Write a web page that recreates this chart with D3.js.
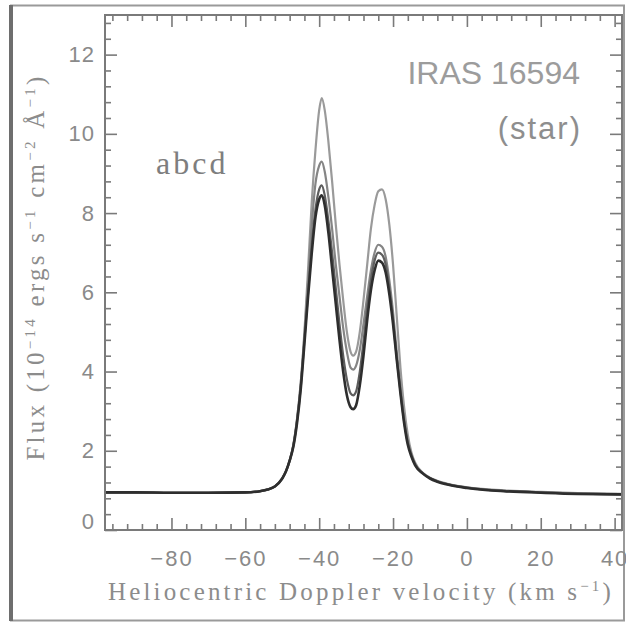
<!DOCTYPE html>
<html>
<head>
<meta charset="utf-8">
<script src="https://cdn.jsdelivr.net/npm/d3@7/dist/d3.min.js"></script>
<style>
  html, body { margin: 0; padding: 0; background: #fff; }
  svg { display: block; }
</style>
</head>
<body>
<svg id="chart" width="626" height="622"></svg>
<script>
// ---- data ----
const velocity = [-98,-90,-80,-70,-60,-56,-54,-52,-50,-49,-48,-47,-46,-45,-44,-43,-42,-41,-40,-39.3,-38.5,-37.5,-36.5,-35.5,-34.5,-33.5,-32.5,-31.5,-30.8,-30,-29,-28,-27,-26,-25,-24,-23,-22,-21,-20,-19,-18,-17,-16,-15,-14,-12,-10,-8,-5,0,5,10,20,30,42];
const fluxA = [0.95,0.95,0.94,0.94,0.95,0.98,1.02,1.1,1.3,1.48,1.75,2.15,2.8,3.7,5.0,6.6,8.3,9.6,10.6,10.9,10.6,9.8,8.8,7.7,6.7,5.8,5.0,4.5,4.4,4.5,5.0,5.8,6.7,7.6,8.2,8.55,8.6,8.35,7.7,6.7,5.4,4.1,3.1,2.4,1.95,1.7,1.45,1.32,1.24,1.16,1.08,1.03,1.0,0.96,0.93,0.91];
const fluxB = [0.95,0.95,0.94,0.94,0.95,0.98,1.02,1.1,1.3,1.48,1.75,2.15,2.8,3.7,4.9,6.3,7.7,8.75,9.2,9.3,9.05,8.4,7.6,6.7,5.9,5.1,4.5,4.1,4.05,4.15,4.55,5.2,5.9,6.55,7.0,7.2,7.15,6.9,6.3,5.5,4.5,3.6,2.8,2.25,1.9,1.66,1.44,1.31,1.23,1.15,1.07,1.02,0.99,0.95,0.92,0.9];
const fluxC = [0.95,0.95,0.94,0.94,0.95,0.98,1.02,1.1,1.3,1.48,1.75,2.12,2.75,3.6,4.8,6.0,7.2,8.1,8.6,8.7,8.45,7.8,7.0,6.1,5.2,4.4,3.8,3.45,3.4,3.5,4.0,4.75,5.6,6.3,6.8,7.0,6.95,6.7,6.1,5.3,4.35,3.5,2.75,2.2,1.88,1.65,1.44,1.31,1.23,1.15,1.07,1.02,0.99,0.95,0.92,0.9];
const fluxD = [0.95,0.95,0.94,0.94,0.95,0.98,1.02,1.1,1.3,1.48,1.75,2.1,2.7,3.55,4.7,5.9,7.0,7.9,8.35,8.45,8.2,7.5,6.6,5.7,4.8,4.0,3.4,3.1,3.05,3.15,3.65,4.4,5.3,6.05,6.55,6.8,6.75,6.5,5.95,5.2,4.3,3.45,2.7,2.15,1.85,1.63,1.43,1.3,1.22,1.14,1.06,1.01,0.98,0.94,0.91,0.9];
const seriesNames = ["a","b","c","d"];
const seriesColors = ["#9a9a9a","#858585","#5e5e5e","#2e2e2e"];
const xTickValues = [-80,-60,-40,-20,0,20,40];
const yTickValues = [0,2,4,6,8,10,12];
const titleLines = ["IRAS 16594","(star)"];
const legendText = "abcd";

// ---- layout ----
const svg = d3.select("#chart");
const L = 105, R = 622, T = 15, B = 530;
const x = d3.scaleLinear().domain([-98, 42]).range([L, R]);
const y = d3.scaleLinear().domain([0, 13]).range([B, T]);

// outer frame
svg.append("rect").attr("x", 11).attr("y", 5.5).attr("width", 613).attr("height", 615)
  .attr("fill", "none").attr("stroke", "#9a9a9a").attr("stroke-width", 2);
svg.append("line").attr("x1", 11).attr("x2", 11).attr("y1", 5).attr("y2", 621)
  .attr("stroke", "#6e6e6e").attr("stroke-width", 4);

// series
const series = [fluxA, fluxB, fluxC, fluxD];
const line = d3.line().x(d => x(d[0])).y(d => y(d[1])).curve(d3.curveMonotoneX);
series.forEach((vals, i) => {
  svg.append("path")
    .datum(velocity.map((v, j) => [v, vals[j]]))
    .attr("d", line)
    .attr("fill", "none")
    .attr("stroke", seriesColors[i])
    .attr("stroke-width", i === 3 ? 2.6 : 2.2)
    .attr("stroke-linejoin", "round");
});

// axes
const tickColor = "#7a7a7a";
const labelColor = "#8a8a8a";
const xMinor = d3.range(-96, 43, 4).filter(v => v % 20 !== 0);
const yMinor = d3.range(0, 33).map(i => +(i * 0.4).toFixed(1)).filter(v => Math.abs(v / 2 - Math.round(v / 2)) > 1e-6);

function styleAxis(g) {
  g.select(".domain").remove();
  g.selectAll("line").attr("stroke", tickColor).attr("stroke-width", 1.6);
}

const xAxis = svg.append("g").attr("transform", `translate(0,${B})`)
  .call(d3.axisBottom(x).tickValues(xTickValues).tickSize(-12).tickPadding(20));
styleAxis(xAxis);
xAxis.selectAll("text").attr("fill", labelColor).attr("font-family", "Liberation Sans, Arial, sans-serif")
  .attr("font-size", 22).attr("letter-spacing", 2);
svg.append("g").attr("transform", `translate(0,${B})`)
  .call(d3.axisBottom(x).tickValues(xMinor).tickSize(-6).tickFormat("")).call(styleAxis);

const xTop = svg.append("g").attr("transform", `translate(0,${T})`)
  .call(d3.axisTop(x).tickValues(xTickValues).tickSize(-12).tickFormat("")).call(styleAxis);
svg.append("g").attr("transform", `translate(0,${T})`)
  .call(d3.axisTop(x).tickValues(xMinor).tickSize(-6).tickFormat("")).call(styleAxis);

const yAxis = svg.append("g").attr("transform", `translate(${L},0)`)
  .call(d3.axisLeft(y).tickValues(yTickValues).tickSize(-12).tickPadding(10));
styleAxis(yAxis);
yAxis.selectAll("text").attr("fill", labelColor).attr("font-family", "Liberation Sans, Arial, sans-serif")
  .attr("font-size", 22).attr("letter-spacing", 1);
yAxis.selectAll(".tick").filter(d => d === 0).select("text").attr("dy", "-0.05em");
svg.append("g").attr("transform", `translate(${L},0)`)
  .call(d3.axisLeft(y).tickValues(yMinor).tickSize(-6).tickFormat("")).call(styleAxis);

svg.append("g").attr("transform", `translate(${R},0)`)
  .call(d3.axisRight(y).tickValues(yTickValues).tickSize(-12).tickFormat("")).call(styleAxis);
svg.append("g").attr("transform", `translate(${R},0)`)
  .call(d3.axisRight(y).tickValues(yMinor).tickSize(-6).tickFormat("")).call(styleAxis);

// plot frame
svg.append("rect").attr("x", L).attr("y", T).attr("width", R - L).attr("height", B - T)
  .attr("fill", "none").attr("stroke", "#7a7a7a").attr("stroke-width", 2);

// helper: fit text to a target length with letter-spacing
function fit(textSel, target) {
  const node = textSel.node();
  const len = node.getComputedTextLength();
  const n = node.textContent.length;
  const ls = (target - len) / Math.max(1, n - 1);
  textSel.attr("letter-spacing", ls.toFixed(2));
}

// x title
const xt = svg.append("text").attr("x", 361).attr("y", 600).attr("text-anchor", "middle")
  .attr("font-family", "Liberation Serif, Times New Roman, serif").attr("font-size", 25)
  .attr("fill", "#8c8c8c");
xt.append("tspan").text("Heliocentric Doppler velocity (km s");
xt.append("tspan").attr("dy", -9).attr("font-size", 15).text("−1");
xt.append("tspan").attr("dy", 9).text(")");
fit(xt, 503);

// y title
const yt = svg.append("text").attr("transform", "translate(44,267) rotate(-90)")
  .attr("text-anchor", "middle")
  .attr("font-family", "Liberation Serif, Times New Roman, serif").attr("font-size", 25)
  .attr("fill", "#8c8c8c");
yt.append("tspan").text("Flux (10");
yt.append("tspan").attr("dy", -9).attr("font-size", 15).text("−14");
yt.append("tspan").attr("dy", 9).text(" ergs s");
yt.append("tspan").attr("dy", -9).attr("font-size", 15).text("−1");
yt.append("tspan").attr("dy", 9).text(" cm");
yt.append("tspan").attr("dy", -9).attr("font-size", 15).text("−2");
yt.append("tspan").attr("dy", 9).text(" Å");
yt.append("tspan").attr("dy", -9).attr("font-size", 15).text("−1");
yt.append("tspan").attr("dy", 9).text(")");
fit(yt, 384);

// in-plot labels
svg.append("text").attr("x", 580).attr("y", 84).attr("text-anchor", "end")
  .attr("font-family", "Liberation Sans, Arial, sans-serif").attr("font-size", 32)
  .attr("fill", "#9c9c9c").text(titleLines[0]);
svg.append("text").attr("x", 582).attr("y", 139).attr("text-anchor", "end")
  .attr("font-family", "Liberation Sans, Arial, sans-serif").attr("font-size", 31)
  .attr("letter-spacing", 2).attr("fill", "#8e8e8e").text(titleLines[1]);
svg.append("text").attr("x", 156).attr("y", 174)
  .attr("font-family", "Liberation Serif, Times New Roman, serif").attr("font-size", 32)
  .attr("letter-spacing", 3).attr("fill", "#7e7e7e").text(legendText);
</script>
</body>
</html>
